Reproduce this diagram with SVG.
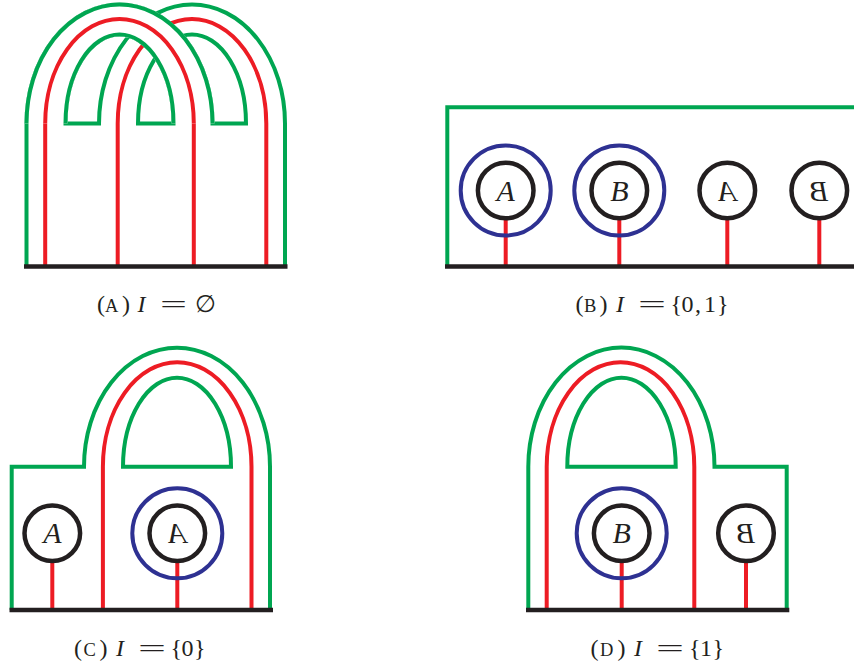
<svg xmlns="http://www.w3.org/2000/svg" width="854" height="667" viewBox="0 0 854 667">
<style>
.g{fill:none;stroke:#00A651;stroke-width:4;stroke-linejoin:miter}
.r{fill:none;stroke:#ED1C24;stroke-width:4}
.k{fill:#fff;stroke:#231F20;stroke-width:4.5}
.b{fill:none;stroke:#2E3192;stroke-width:4}
.base{fill:none;stroke:#231F20;stroke-width:4.5}
.lt{font-family:"Liberation Serif","DejaVu Serif",serif;font-style:italic;font-size:30px;fill:#231F20;text-anchor:middle}
.cap{font-family:"Liberation Serif","DejaVu Serif",serif;font-size:24px;fill:#231F20}
.sc{font-size:18.5px}
.it{font-style:italic}
</style>
<rect width="854" height="667" fill="#fff"/>

<!-- Panel A -->
<g id="panel-a">
  <path class="r" d="M117.7 266.5V123.5A74.3 104.5 0 0 1 266.3 123.5V266.5"/>
  <path class="r" d="M45.2 266.5V123.5A74.3 104.5 0 0 1 193.8 123.5V266.5"/>
  <path class="g" d="M26.5 266.5V123.5A93 119 0 0 1 212.5 123.5H246A54 89 0 0 0 138 123.5H173.5A54 89 0 0 0 65.5 123.5H99A93 119 0 0 1 285 123.5V266.5"/>
  <path fill="#fff" d="M24.5 123.5A95 121 0 0 1 214.5 123.5L171.5 123.5A52 87 0 0 0 67.5 123.5Z"/>
  <path class="g" d="M26.5 123.5A93 119 0 0 1 212.5 123.5"/>
  <path class="r" d="M45.2 123.5A74.3 104.5 0 0 1 193.8 123.5"/>
  <path class="g" d="M65.5 123.5A54 89 0 0 1 173.5 123.5"/>
  <line class="base" x1="24" y1="266.5" x2="287.5" y2="266.5"/>
</g>

<!-- Panel B -->
<g id="panel-b">
  <path class="g" d="M447.3 266V107.3H856"/>
  <g id="connectors-b">
    <line class="r" x1="505.7" y1="218" x2="505.7" y2="266"/>
    <line class="r" x1="619.3" y1="218" x2="619.3" y2="266"/>
    <line class="r" x1="727.3" y1="218" x2="727.3" y2="266"/>
    <line class="r" x1="819.3" y1="218" x2="819.3" y2="266"/>
  </g>
  <g id="b-node-a">
    <circle class="b" cx="505.7" cy="190.5" r="45"/>
    <circle class="k" cx="505.7" cy="190.5" r="27.8"/>
    <text class="lt" x="505.7" y="200.5">A</text>
  </g>
  <g id="b-node-b">
    <circle class="b" cx="619.3" cy="190.5" r="45"/>
    <circle class="k" cx="619.3" cy="190.5" r="27.8"/>
    <text class="lt" x="619.3" y="200.5">B</text>
  </g>
  <g id="b-node-a-mirror">
    <circle class="k" cx="727.3" cy="190.5" r="27.8"/>
    <text class="lt" transform="translate(727.3 200.5) scale(-1 1)">A</text>
  </g>
  <g id="b-node-b-mirror">
    <circle class="k" cx="819.3" cy="190.5" r="27.8"/>
    <text class="lt" transform="translate(819.3 200.5) scale(-1 1)">B</text>
  </g>
  <line class="base" x1="445" y1="266.5" x2="856" y2="266.5"/>
</g>

<!-- Panel C -->
<g id="panel-c">
  <path class="g" d="M11.7 610V466.7H84A93 119 0 0 1 270 466.7V610"/>
  <path class="r" d="M102.9 610V466.7A74.3 104.5 0 0 1 251.5 466.7V610"/>
  <path class="g" d="M123 466.7A54 89 0 0 1 231 466.7Z"/>
  <g id="connectors-c">
    <line class="r" x1="52.3" y1="561" x2="52.3" y2="610"/>
    <line class="r" x1="177.3" y1="561" x2="177.3" y2="610"/>
  </g>
  <g id="c-node-a">
    <circle class="k" cx="52.3" cy="533.3" r="27.8"/>
    <text class="lt" x="52.3" y="543.3">A</text>
  </g>
  <g id="c-node-a-mirror">
    <circle class="b" cx="177.3" cy="533.3" r="45"/>
    <circle class="k" cx="177.3" cy="533.3" r="27.8"/>
    <text class="lt" transform="translate(177.3 543.3) scale(-1 1)">A</text>
  </g>
  <line class="base" x1="9.5" y1="610" x2="273" y2="610"/>
</g>

<!-- Panel D -->
<g id="panel-d">
  <path class="g" d="M528.3 610V466.7A93 119 0 0 1 714.5 466.7H786.7V610"/>
  <path class="r" d="M546.7 610V466.7A73.8 104.5 0 0 1 694.3 466.7V610"/>
  <path class="g" d="M567.3 466.7A54.2 89 0 0 1 675.7 466.7Z"/>
  <g id="connectors-d">
    <line class="r" x1="621.7" y1="561" x2="621.7" y2="610"/>
    <line class="r" x1="746" y1="561" x2="746" y2="610"/>
  </g>
  <g id="d-node-b">
    <circle class="b" cx="621.7" cy="533.3" r="45"/>
    <circle class="k" cx="621.7" cy="533.3" r="27.8"/>
    <text class="lt" x="621.7" y="543.3">B</text>
  </g>
  <g id="d-node-b-mirror">
    <circle class="k" cx="746" cy="533.3" r="27.8"/>
    <text class="lt" transform="translate(746 543.3) scale(-1 1)">B</text>
  </g>
  <line class="base" x1="526" y1="610" x2="789.3" y2="610"/>
</g>

<!-- Captions -->
<g id="captions">
  <text class="cap" y="311.5"><tspan x="97">(</tspan><tspan x="105" class="sc">A</tspan><tspan x="122">)</tspan><tspan x="137.5" class="it">I</tspan><tspan x="160" textLength="27" lengthAdjust="spacingAndGlyphs">=</tspan><tspan x="194.5">∅</tspan></text>
  <text class="cap" y="311.5"><tspan x="575.5">(</tspan><tspan x="584" class="sc">B</tspan><tspan x="599.5">)</tspan><tspan x="616" class="it">I</tspan><tspan x="638" textLength="28" lengthAdjust="spacingAndGlyphs">=</tspan><tspan x="670.5">{</tspan><tspan x="681.5">0</tspan><tspan x="695">,</tspan><tspan x="704">1</tspan><tspan x="717">}</tspan></text>
  <text class="cap" y="656"><tspan x="74">(</tspan><tspan x="83.5" class="sc">C</tspan><tspan x="99.5">)</tspan><tspan x="116" class="it">I</tspan><tspan x="138" textLength="28" lengthAdjust="spacingAndGlyphs">=</tspan><tspan x="170.5">{</tspan><tspan x="181.5">0</tspan><tspan x="194">}</tspan></text>
  <text class="cap" y="656"><tspan x="590.5">(</tspan><tspan x="600" class="sc">D</tspan><tspan x="617.5">)</tspan><tspan x="634" class="it">I</tspan><tspan x="656" textLength="28" lengthAdjust="spacingAndGlyphs">=</tspan><tspan x="689">{</tspan><tspan x="700">1</tspan><tspan x="712.5">}</tspan></text>
</g>
</svg>
